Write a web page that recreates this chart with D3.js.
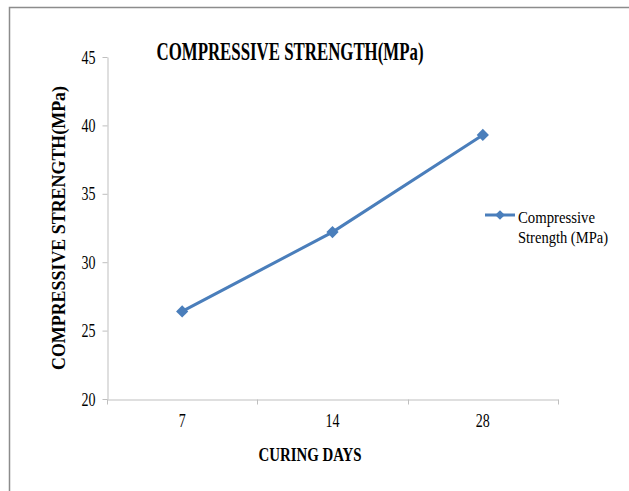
<!DOCTYPE html>
<html>
<head>
<meta charset="utf-8">
<script src="https://cdn.jsdelivr.net/npm/d3@7"></script>
<style>
  body { margin: 0; background: #fff; }
  text { font-family: 'Liberation Serif', 'Times New Roman', serif; fill: #000; }
</style>
</head>
<body>
<script>
const curingDays = ['7', '14', '28'];
const strength = [26.4, 32.2, 39.3];
const yTicks = [20, 25, 30, 35, 40, 45];
const seriesName = ['Compressive', 'Strength (MPa)'];

const width = 629;
const height = 491;
const blue = '#4a7ebb';
const serif = "'Liberation Serif', 'Times New Roman', serif";

const svg = d3.select('body').append('svg').attr('width', width).attr('height', height);

// outer frame (only top and left visible)
svg.append('path')
	.attr('d', `M9.5,${height} V7.5 H${width}`)
	.attr('fill', 'none')
	.attr('stroke', '#8c8c8c')
	.attr('stroke-width', 1.5);

const xScale = d3.scaleBand().domain(curingDays).range([107, 558]);
const yScale = d3.scaleLinear().domain([20, 45]).range([399, 57]);

const yAxis = d3.axisLeft(yScale).tickValues(yTicks).tickSize(5).tickSizeOuter(0).tickPadding(7);
const gy = svg.append('g').attr('transform', 'translate(107.5,0)').call(yAxis);
gy.attr('font-family', serif).attr('font-size', 19);
gy.select('.domain').attr('stroke', '#bfbfbf');
gy.selectAll('.tick line').attr('stroke', '#bfbfbf');
gy.selectAll('.tick text')
	.attr('textLength', (d) => String(d).length * 7)
	.attr('lengthAdjust', 'spacingAndGlyphs');

const xAxis = d3.axisBottom(xScale).tickSize(0);
const gx = svg.append('g').attr('transform', 'translate(0,399.5)').call(xAxis);
gx.attr('font-family', serif).attr('font-size', 19);
gx.select('.domain').attr('stroke', '#bfbfbf');
gx.selectAll('.tick text')
	.attr('y', 27.5)
	.attr('dy', 0)
	.attr('textLength', (d) => d.length * 7)
	.attr('lengthAdjust', 'spacingAndGlyphs');

// category boundary ticks
const bounds = curingDays.map((d) => xScale(d)).concat([xScale.range()[1]]);
gx.selectAll('.bound')
	.data(bounds)
	.enter()
	.append('line')
	.attr('class', 'bound')
	.attr('x1', (d) => Math.round(d) + 0.5)
	.attr('x2', (d) => Math.round(d) + 0.5)
	.attr('y1', 0)
	.attr('y2', 5)
	.attr('stroke', '#bfbfbf');

const pts = curingDays.map((d, i) => ({ day: d, value: strength[i] }));
const line = d3.line()
	.x((d) => xScale(d.day) + xScale.bandwidth() / 2)
	.y((d) => yScale(d.value));

svg.append('path')
	.datum(pts)
	.attr('d', line)
	.attr('fill', 'none')
	.attr('stroke', blue)
	.attr('stroke-width', 3);

const diamond = d3.symbol().type(d3.symbolDiamond2).size(95);
svg.selectAll('.marker')
	.data(pts)
	.enter()
	.append('path')
	.attr('class', 'marker')
	.attr('d', diamond)
	.attr('transform', (d) => `translate(${xScale(d.day) + xScale.bandwidth() / 2},${yScale(d.value)})`)
	.attr('fill', blue);

// title
svg.append('text')
	.attr('x', 290)
	.attr('y', 60)
	.attr('text-anchor', 'middle')
	.attr('textLength', 267)
	.attr('lengthAdjust', 'spacingAndGlyphs')
	.style('font-size', '26px')
	.style('font-weight', 'bold')
	.text('COMPRESSIVE STRENGTH(MPa)');

// axis titles
svg.append('text')
	.attr('transform', 'translate(65,228) rotate(-90)')
	.attr('text-anchor', 'middle')
	.attr('textLength', 284)
	.attr('lengthAdjust', 'spacingAndGlyphs')
	.style('font-size', '19px')
	.style('font-weight', 'bold')
	.text('COMPRESSIVE STRENGTH(MPa)');

svg.append('text')
	.attr('x', 310)
	.attr('y', 461)
	.attr('text-anchor', 'middle')
	.attr('textLength', 103)
	.attr('lengthAdjust', 'spacingAndGlyphs')
	.style('font-size', '19px')
	.style('font-weight', 'bold')
	.text('CURING DAYS');

// legend
const legend = svg.append('g').attr('transform', 'translate(485,215)');
legend.append('line')
	.attr('x1', 0)
	.attr('x2', 30)
	.attr('stroke', blue)
	.attr('stroke-width', 3);
legend.append('path')
	.attr('d', d3.symbol().type(d3.symbolDiamond2).size(60))
	.attr('transform', 'translate(15,0)')
	.attr('fill', blue);
legend.selectAll('.lt')
	.data(seriesName)
	.enter()
	.append('text')
	.attr('class', 'lt')
	.attr('x', 33)
	.attr('y', (d, i) => 8 + i * 20)
	.attr('textLength', (d, i) => [77, 90][i])
	.attr('lengthAdjust', 'spacingAndGlyphs')
	.style('font-size', '17px')
	.text((d) => d);
</script>
</body>
</html>
